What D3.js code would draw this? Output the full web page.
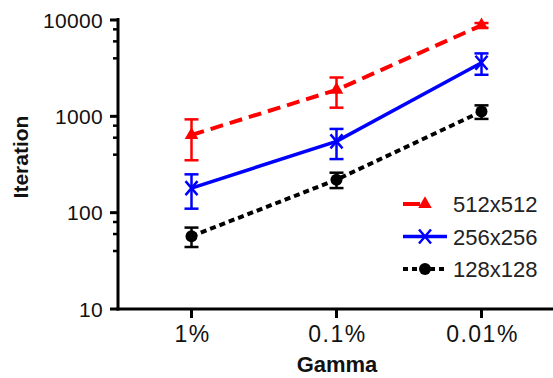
<!DOCTYPE html>
<html>
<head>
<meta charset="utf-8">
<script src="https://cdn.jsdelivr.net/npm/d3@7"></script>
<style>
  body { margin: 0; background: #fff; }
  svg { display: block; font-family: "Liberation Sans", Arial, sans-serif; }
</style>
</head>
<body>
<script>
// Gamma vs iteration, log scale, 3 grid sizes

var categories = ["1%", "0.1%", "0.01%"];
var seriesNames = ["512x512", "256x256", "128x128"];

var mean512 = [640, 1880, 8800];
var sd512 = [290, 650, 500];
var mean256 = [180, 550, 3600];
var sd256 = [70, 190, 900];
var mean128 = [57, 220, 1120];
var sd128 = [13, 40, 180];

var majorTicks = [10, 100, 1000, 10000];
var minorTicks = [40, 60, 80, 400, 600, 800, 4000, 6000, 8000];

var svgWidth = 553;
var svgHeight = 378;

var svg = d3.select("body")
  .append("svg")
  .attr("width", svgWidth)
  .attr("height", svgHeight);

var xScale = d3.scalePoint()
  .domain(categories)
  .range([119, 554])
  .padding(0.5);

var yScale = d3.scaleLog()
  .domain([10, 10000])
  .range([309, 20]);

var axisLeftX = 118;
var axisBottomY = 309;

var series = [
  { name: seriesNames[0], means: mean512, sds: sd512, color: "#ff0000", dash: "13,7", width: 4, marker: "triangle" },
  { name: seriesNames[1], means: mean256, sds: sd256, color: "#0000ff", dash: null, width: 3.5, marker: "cross" },
  { name: seriesNames[2], means: mean128, sds: sd128, color: "#000000", dash: "6,4", width: 4, marker: "circle" }
];

// axes
var axes = svg.append("g");

axes.append("line")
  .attr("x1", axisLeftX).attr("x2", axisLeftX)
  .attr("y1", yScale(10000) - 2).attr("y2", axisBottomY + 1.5)
  .attr("stroke", "#000").attr("stroke-width", 3);

axes.append("line")
  .attr("x1", axisLeftX - 1.5).attr("x2", svgWidth)
  .attr("y1", axisBottomY).attr("y2", axisBottomY)
  .attr("stroke", "#000").attr("stroke-width", 3);

axes.selectAll(".major")
  .data(majorTicks)
  .enter()
  .append("line")
  .attr("x1", axisLeftX - 8).attr("x2", axisLeftX)
  .attr("y1", function(d) { return yScale(d); })
  .attr("y2", function(d) { return yScale(d); })
  .attr("stroke", "#000").attr("stroke-width", 3);

axes.selectAll(".minor")
  .data(minorTicks)
  .enter()
  .append("line")
  .attr("x1", axisLeftX - 5).attr("x2", axisLeftX)
  .attr("y1", function(d) { return yScale(d); })
  .attr("y2", function(d) { return yScale(d); })
  .attr("stroke", "#000").attr("stroke-width", 2.5);

axes.selectAll(".ylabel")
  .data(majorTicks)
  .enter()
  .append("text")
  .attr("x", axisLeftX - 15)
  .attr("y", function(d) { return yScale(d) + 7.5; })
  .attr("text-anchor", "end")
  .attr("font-size", 21)
  .attr("letter-spacing", 0.3)
  .attr("fill", "#111")
  .text(function(d) { return d; });

axes.selectAll(".xtick")
  .data(categories)
  .enter()
  .append("line")
  .attr("x1", function(d) { return xScale(d); })
  .attr("x2", function(d) { return xScale(d); })
  .attr("y1", axisBottomY)
  .attr("y2", axisBottomY + 9)
  .attr("stroke", "#000").attr("stroke-width", 3);

axes.selectAll(".xlabel")
  .data(categories)
  .enter()
  .append("text")
  .attr("x", function(d) { return xScale(d) + 1; })
  .attr("y", 342)
  .attr("text-anchor", "middle")
  .attr("font-size", 23)
  .attr("letter-spacing", 1.5)
  .attr("fill", "#111")
  .text(function(d) { return d; });

svg.append("text")
  .attr("x", 337)
  .attr("y", 372)
  .attr("text-anchor", "middle")
  .attr("font-size", 22)
  .attr("font-weight", "bold")
  .attr("fill", "#111")
  .text("Gamma");

svg.append("text")
  .attr("transform", "translate(28,157) rotate(-90)")
  .attr("text-anchor", "middle")
  .attr("font-size", 21)
  .attr("font-weight", "bold")
  .attr("fill", "#111")
  .text("Iteration");

// markers
function drawMarker(g, type, x, y, color) {
  if (type === "triangle") {
    g.append("path")
      .attr("d", d3.symbol().type(d3.symbolTriangle).size(80)())
      .attr("transform", "translate(" + x + "," + y + ")")
      .attr("fill", color);
  } else if (type === "cross") {
    g.append("path")
      .attr("d", "M-6,-7L6,7M-6,7L6,-7")
      .attr("transform", "translate(" + x + "," + y + ")")
      .attr("stroke", color).attr("stroke-width", 2.5).attr("fill", "none");
  } else {
    g.append("circle")
      .attr("cx", x).attr("cy", y).attr("r", 6)
      .attr("fill", color);
  }
}

var line = d3.line()
  .x(function(d, i) { return xScale(categories[i]); })
  .y(function(d) { return yScale(d); });

series.forEach(function(s) {
  var g = svg.append("g");

  g.append("path")
    .datum(s.means)
    .attr("d", line)
    .attr("fill", "none")
    .attr("stroke", s.color)
    .attr("stroke-width", s.width)
    .attr("stroke-dasharray", s.dash);

  s.means.forEach(function(m, i) {
    var x = xScale(categories[i]);
    var yTop = yScale(m + s.sds[i]);
    var yBot = yScale(m - s.sds[i]);
    g.append("line")
      .attr("x1", x).attr("x2", x).attr("y1", yTop).attr("y2", yBot)
      .attr("stroke", s.color).attr("stroke-width", 2.5);
    [yTop, yBot].forEach(function(yy) {
      g.append("line")
        .attr("x1", x - 7).attr("x2", x + 7).attr("y1", yy).attr("y2", yy)
        .attr("stroke", s.color).attr("stroke-width", 2.5);
    });
    drawMarker(g, s.marker, x, yScale(m), s.color);
  });
});

// legend
var legend = svg.append("g");
series.forEach(function(s, i) {
  var y = 204 + i * 32.5;
  legend.append("line")
    .attr("x1", 403).attr("x2", 447)
    .attr("y1", y).attr("y2", y)
    .attr("stroke", s.color)
    .attr("stroke-width", s.width)
    .attr("stroke-dasharray", s.dash ? (i === 0 ? "17,27" : "5,4") : null);
  drawMarker(legend, s.marker, 425, y, s.color);
  legend.append("text")
    .attr("x", 453)
    .attr("y", y + 8)
    .attr("font-size", 22)
    .attr("fill", "#222")
    .text(s.name);
});
</script>
</body>
</html>
